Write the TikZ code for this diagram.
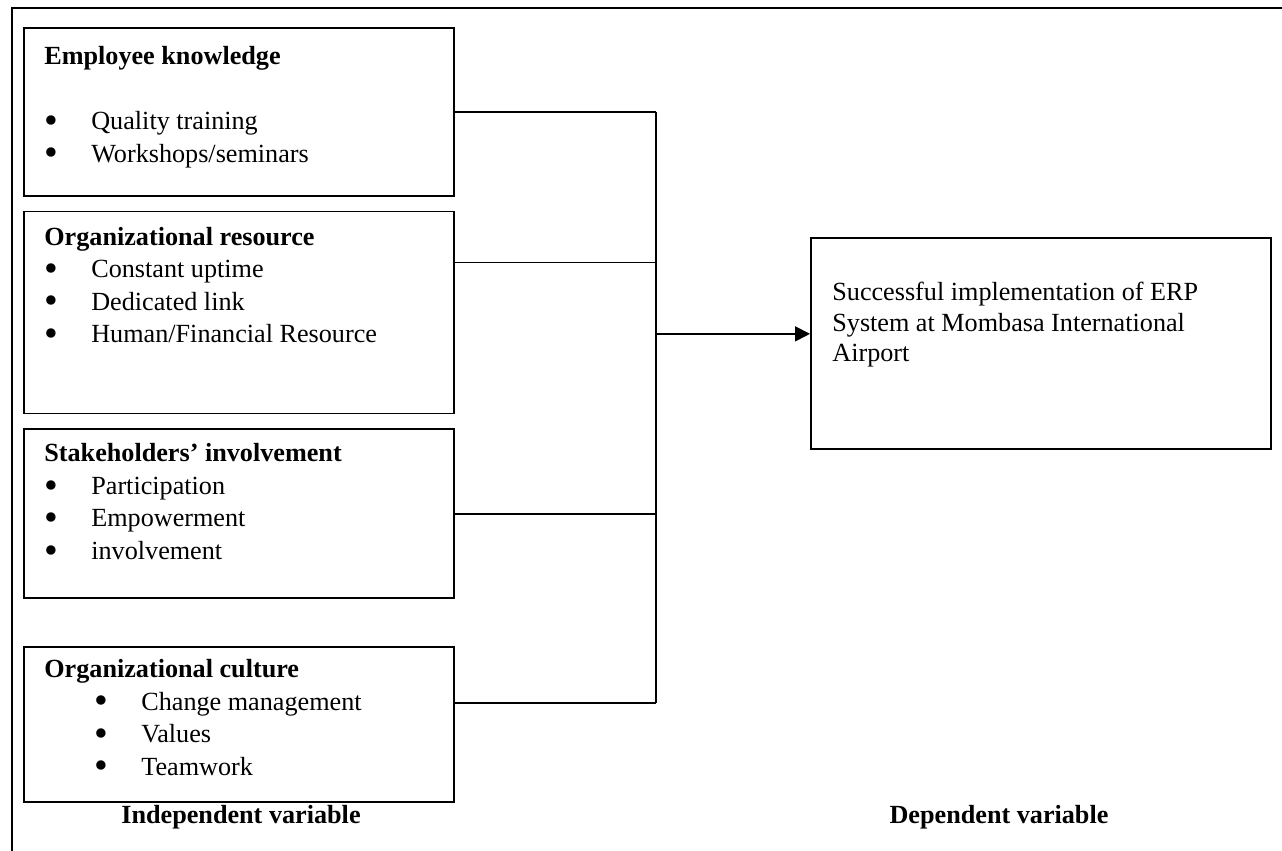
\documentclass[tikz,border=0pt]{standalone}
\usepackage{fontspec}
\setmainfont{Liberation Serif}
\usetikzlibrary{positioning, arrows.meta}
\newcommand{\bul}[1]{\makebox[0.94cm][l]{\smash{\raisebox{-0.3ex}{\scalebox{1.5}{\textbullet}}}}#1}

\begin{document}
\begin{tikzpicture}[x=0.02cm, y=-0.02cm, font=\fontsize{14.9}{18.5}\selectfont]

  \useasboundingbox (0,0) rectangle (1282,851);

  % Frame
  \draw[line width=1.4pt] (12,851) -- (12,8) -- (1282,8);

  % Independent variables

  \node[draw, line width=1pt, rectangle, minimum width=8.6cm, minimum height=3.36cm, inner sep=0, anchor=north west] (box1) at (23,27) {};
  \node[below right=0.38cm and 0.42cm of box1.north west, align=left, inner sep=0] (txt1) {\textbf{Employee knowledge} \\[18.5pt] \bul{Quality training} \\ \bul{Workshops/seminars}};

  \node[draw, line width=1pt, rectangle, minimum width=8.6cm, minimum height=4.04cm, inner sep=0, below=0.28cm of box1] (box2) {};
  \node[below right=0.32cm and 0.42cm of box2.north west, align=left, inner sep=0] (txt2) {\textbf{Organizational resource} \\ \bul{Constant uptime} \\ \bul{Dedicated link} \\ \bul{Human/Financial Resource}};

  \node[draw, line width=1pt, rectangle, minimum width=8.6cm, minimum height=3.38cm, inner sep=0, below=0.28cm of box2] (box3) {};
  \node[below right=0.3cm and 0.42cm of box3.north west, align=left, inner sep=0] (txt3) {\textbf{Stakeholders’ involvement} \\ \bul{Participation} \\ \bul{Empowerment} \\ \bul{involvement}};

  \node[draw, line width=1pt, rectangle, minimum width=8.6cm, minimum height=3.1cm, inner sep=0, below=0.94cm of box3] (box4) {};
  \node[below right=0.26cm and 0.42cm of box4.north west, align=left, inner sep=0] (txt4) {\textbf{Organizational culture} \\ \hspace*{1.0cm}\bul{Change management} \\ \hspace*{1.0cm}\bul{Values} \\ \hspace*{1.0cm}\bul{Teamwork}};

  \node[anchor=base] (lab-indep) at (241,823) {\textbf{Independent variable}};

  % Dependent variable

  \node[draw, line width=1pt, rectangle, minimum width=9.2cm, minimum height=4.22cm, inner sep=0, anchor=north west] (box5) at (810,237) {};
  \node[below right=0.9cm and 0.44cm of box5.north west, align=left, inner sep=0, font=\fontsize{14.9}{17.3}\selectfont] (txt5) {Successful implementation of ERP \\ System at Mombasa International \\ Airport};

  \node[anchor=base] (lab-dep) at (999,823) {\textbf{Dependent variable}};

  % Connectors
  \coordinate (join) at ([xshift=4.02cm]box1.east);
  \coordinate (b2) at ([yshift=1cm]box2.east);
  \coordinate (b4) at ([yshift=0.43cm]box4.east);
  \draw[line width=1pt] (box1.east) -- (join);
  \draw[line width=1pt] (b2) -- (b2 -| join);
  \draw[line width=1pt] (box3.east) -- (box3.east -| join);
  \draw[line width=1pt] (b4) -- (b4 -| join);
  \draw[line width=1pt] (join) -- (b4 -| join);
  \draw[->, >={Triangle[length=8.5pt, width=8.5pt]}, line width=1pt] ([yshift=0.19cm]box5.west -| join) -- ([yshift=0.19cm]box5.west);

\end{tikzpicture}
\end{document}
